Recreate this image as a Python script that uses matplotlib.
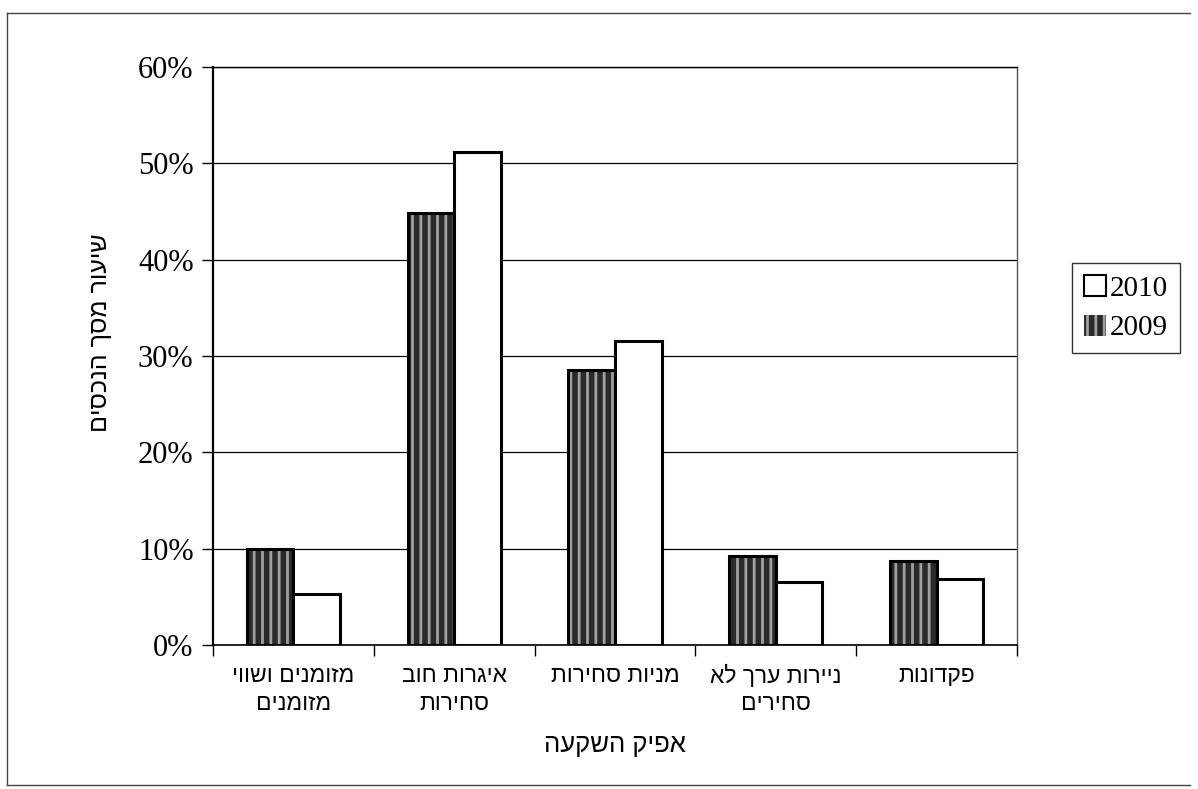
import matplotlib
matplotlib.use('Agg')
import matplotlib.pyplot as plt
import numpy as np
from matplotlib.patches import Patch
from matplotlib.lines import Line2D

categories = ["מזומנים ושווי\nמזומנים", "איגרות חוב\nסחירות", "מניות סחירות",
              "ניירות ערך לא\nסחירים", "פקדונות"]
series_names = ["2009", "2010"]
values_2009 = [10.0, 44.8, 28.5, 9.2, 8.7]
values_2010 = [5.3, 51.2, 31.6, 6.5, 6.8]
y_ticks = [0, 10, 20, 30, 40, 50, 60]
y_label = "שיעור מסך הנכסים"
x_label = "אפיק השקעה"


def visual(s):
    # matplotlib has no bidi support: put right-to-left text in visual order
    return "\n".join(line[::-1] for line in s.split("\n"))


HEB = ['Liberation Sans', 'DejaVu Sans']
NUM = ['Liberation Serif', 'DejaVu Serif']
plt.rcParams['hatch.linewidth'] = 2.0

W, H = 1198, 789
fig = plt.figure(figsize=(W / 100, H / 100), dpi=100)
ax = fig.add_axes([213 / W, 1 - 645 / H, (1017 - 213) / W, (645 - 67) / H])

x = np.arange(len(categories))
w = 0.29

# 2009: dark striped bars
ax.bar(x - w / 2, values_2009, w, color='#2a2a2a', edgecolor='#a0a0a0',
       hatch='||', linewidth=0, zorder=3)
ax.bar(x - w / 2, values_2009, w, fill=False, edgecolor='black',
       linewidth=2.2, zorder=4)
# 2010: white bars
ax.bar(x + w / 2, values_2010, w, color='white', edgecolor='black',
       linewidth=2.2, zorder=4)

ax.set_xlim(-0.5, len(categories) - 0.5)
ax.set_ylim(0, 60)
ax.set_yticks(y_ticks)
ax.set_yticklabels([f"{v}%" for v in y_ticks], fontfamily=NUM, fontsize=22)
ax.yaxis.grid(True, color='black', linewidth=0.9, zorder=0)
ax.set_axisbelow(True)

ax.set_xticks(x)
ax.set_xticklabels([visual(c) for c in categories], fontfamily=HEB,
                   fontsize=16.5, linespacing=1.25)
ax.set_xticks(np.arange(len(categories) + 1) - 0.5, minor=True)
ax.tick_params(axis='x', which='major', length=0, pad=14)
ax.tick_params(axis='x', which='minor', length=8, width=1, direction='out')
ax.tick_params(axis='y', length=8, width=1, direction='out', pad=6)

for side, sp in ax.spines.items():
    sp.set_color('black')
    sp.set_linewidth(1.0)
ax.spines['left'].set_linewidth(1.6)
ax.spines['bottom'].set_linewidth(1.2)
ax.spines['right'].set_color('#555555')

fig.text(615 / W, 1 - 745 / H, visual(x_label), fontfamily=HEB, fontsize=18.5,
         ha='center', va='center')
fig.text(100 / W, 1 - 333 / H, visual(y_label), fontfamily=HEB, fontsize=18,
         ha='center', va='center', rotation=90)

handles = [Patch(facecolor='white', edgecolor='black', linewidth=1.5),
           Patch(facecolor='#2a2a2a', edgecolor='#a0a0a0', hatch='||', linewidth=0)]
leg = fig.legend(handles, [series_names[1], series_names[0]],
                 loc='upper left', bbox_to_anchor=(1072 / W, 1 - 263 / H),
                 bbox_transform=fig.transFigure, frameon=True, fancybox=False,
                 edgecolor='black', prop={'family': NUM, 'size': 21},
                 handlelength=0.75, handleheight=0.75, handletextpad=0.15,
                 labelspacing=0.45, borderpad=0.4, borderaxespad=0)
leg.get_frame().set_linewidth(1.0)

# outer chart frame
fig.add_artist(Line2D([7 / W, 1190 / W], [1 - 13 / H, 1 - 13 / H],
                      transform=fig.transFigure, color='#444444', lw=1))
fig.add_artist(Line2D([7 / W, 7 / W], [1 - 13 / H, 1 - 785 / H],
                      transform=fig.transFigure, color='#444444', lw=1))
fig.add_artist(Line2D([7 / W, 1190 / W], [1 - 785 / H, 1 - 785 / H],
                      transform=fig.transFigure, color='#444444', lw=1))

fig.savefig('out.png', dpi=100, facecolor='white')
